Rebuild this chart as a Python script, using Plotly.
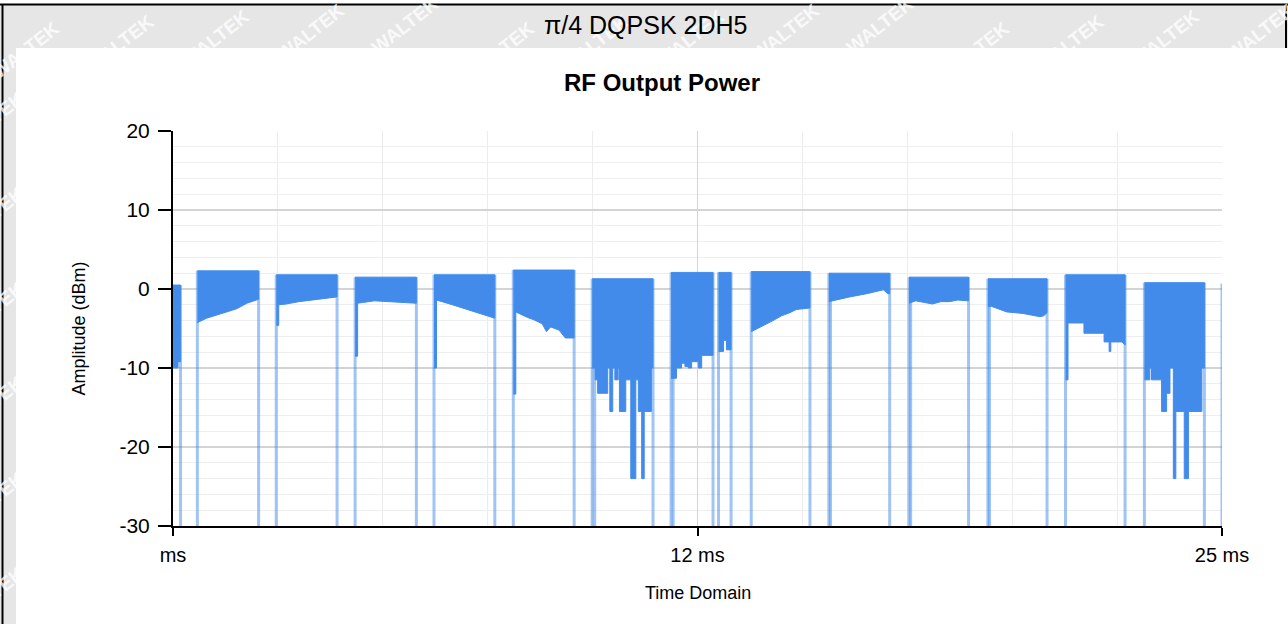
import plotly.graph_objects as go

# packet bursts (ms)
burst_start = [0.00, 0.58, 2.46, 4.34, 6.22, 8.11, 9.99, 11.87, 13.00, 13.78, 15.63, 17.54, 19.42, 21.27, 23.15]
burst_end = [0.18, 2.04, 3.91, 5.80, 7.67, 9.56, 11.44, 12.87, 13.30, 15.18, 17.08, 18.96, 20.83, 22.69, 24.58]
burst_peak = [0.5, 2.3, 1.8, 1.5, 1.8, 2.4, 1.3, 2.1, 2.1, 2.2, 2.0, 1.5, 1.3, 1.8, 0.8]

# lower envelope of each burst, left to right (ms / dBm)
floor_t = [
    [0.00, 0.12, 0.12, 0.18],
    [0.58, 0.64, 0.80, 1.04, 1.28, 1.52, 1.76, 1.99, 2.04],
    [2.46, 2.52, 2.52, 2.70, 3.00, 3.30, 3.60, 3.91],
    [4.34, 4.40, 4.40, 4.80, 5.20, 5.50, 5.80],
    [6.22, 6.28, 6.28, 6.60, 6.90, 7.20, 7.50, 7.67],
    [8.11, 8.17, 8.17, 8.45, 8.60, 8.80, 8.90, 9.00, 9.20, 9.35, 9.56],
    [9.99, 10.06, 10.06, 10.12, 10.12, 10.36, 10.36, 10.41, 10.41, 10.48, 10.48, 10.53,
     10.53, 10.61, 10.61, 10.64, 10.64, 10.79, 10.79, 10.91, 10.91, 11.03, 11.03, 11.09,
     11.09, 11.17, 11.17, 11.23, 11.23, 11.40, 11.40, 11.44],
    [11.87, 12.00, 12.00, 12.12, 12.12, 12.20, 12.20, 12.28, 12.28, 12.36, 12.36, 12.52,
     12.52, 12.60, 12.60, 12.87],
    [13.00, 13.12, 13.12, 13.19, 13.19, 13.30],
    [13.78, 13.85, 14.00, 14.10, 14.30, 14.50, 14.70, 14.85, 15.00, 15.18],
    [15.63, 15.74, 16.13, 16.53, 16.93, 17.04, 17.08],
    [17.54, 17.70, 17.90, 18.10, 18.30, 18.50, 18.70, 18.96],
    [19.42, 19.51, 19.87, 20.26, 20.66, 20.75, 20.83],
    [21.27, 21.33, 21.33, 21.71, 21.71, 22.19, 22.19, 22.31, 22.31, 22.35, 22.35, 22.62, 22.69],
    [23.15, 23.28, 23.28, 23.32, 23.32, 23.56, 23.56, 23.68, 23.68, 23.76, 23.76, 23.84,
     23.84, 23.90, 23.90, 24.10, 24.10, 24.20, 24.20, 24.52, 24.52, 24.58],
]
floor_db = [
    [-10.0, -10.0, -9.2, -9.2],
    [-4.3, -4.1, -3.7, -3.3, -2.9, -2.5, -1.8, -1.4, -1.3],
    [-4.6, -4.6, -2.0, -1.9, -1.6, -1.4, -1.2, -1.0],
    [-8.5, -8.5, -1.8, -1.5, -1.6, -1.7, -1.8],
    [-10.0, -10.0, -1.4, -1.9, -2.4, -2.9, -3.4, -3.7],
    [-13.3, -13.3, -2.9, -3.6, -3.9, -4.4, -5.4, -4.8, -5.2, -6.2, -6.2],
    [-10.0, -10.0, -11.5, -11.5, -13.2, -13.2, -10.0, -10.0, -15.5, -15.5, -10.0, -10.0,
     -11.5, -11.5, -10.0, -10.0, -15.5, -15.5, -11.5, -11.5, -24.0, -24.0, -11.5, -11.5,
     -15.5, -15.5, -24.0, -24.0, -15.5, -15.5, -10.0, -10.0],
    [-11.3, -11.3, -10.0, -10.0, -9.4, -9.4, -9.8, -9.8, -10.0, -10.0, -9.2, -9.2,
     -10.0, -10.0, -8.4, -8.4],
    [-7.9, -7.9, -6.5, -6.5, -7.7, -7.7],
    [-5.4, -5.2, -4.8, -4.5, -4.0, -3.4, -3.0, -2.6, -2.5, -2.4],
    [-1.6, -1.4, -1.0, -0.6, -0.1, -0.6, -0.6],
    [-1.8, -1.5, -1.7, -1.9, -1.6, -1.6, -1.4, -1.5],
    [-2.2, -2.2, -2.9, -3.1, -3.5, -3.4, -3.0],
    [-11.5, -11.5, -4.3, -4.3, -5.6, -5.6, -6.7, -6.7, -7.9, -7.9, -6.7, -6.7, -7.1],
    [-11.5, -11.5, -10.0, -10.0, -11.5, -11.5, -15.5, -15.5, -13.2, -13.2, -10.0, -10.0,
     -24.0, -24.0, -15.5, -15.5, -24.0, -24.0, -15.5, -15.5, -10.0, -10.0],
]

# rising / falling edges that drop below the -30 dBm bottom of the display
edge_t = [0.18, 0.58, 2.04, 2.46, 3.91, 4.34, 5.80, 6.22, 7.67, 8.11,
          9.56, 9.99, 10.05, 11.44, 11.87, 11.92, 12.87, 13.00, 13.30, 13.78,
          15.18, 15.63, 15.67, 17.08, 17.54, 17.58, 18.96, 19.42, 19.46, 20.83,
          21.27, 22.69, 23.15, 24.58, 25.00]
edge_db = [0.5, 2.3, 2.3, 1.8, 1.8, 1.5, 1.5, 1.8, 1.8, 2.4,
           2.4, 1.3, 1.3, 1.3, 2.1, 2.1, 2.1, 2.1, 2.1, 2.2,
           2.2, 2.0, 2.0, 2.0, 1.5, 1.5, 1.5, 1.3, 1.3, 1.3,
           1.8, 1.8, 0.8, 0.8, 0.7]

x_tickvals = [0, 12.5, 25]
x_ticktext = ["ms", "12 ms", "25 ms"]
y_tickvals = [-30, -20, -10, 0, 10, 20]
y_ticktext = ["-30", "-20", "-10", "0", "10", "20"]

BLUE = "#428BEB"
FONT = "Liberation Sans, Arial, sans-serif"
W, H = 1288, 624
L, R, T, B = 173, 1222, 131, 526


def px(x):
    return (x - L) / (R - L)


def py(y):
    return (B - y) / (B - T)


fig = go.Figure()

ex, ey = [], []
for t, top in zip(edge_t, edge_db):
    ex += [t, t, None]
    ey += [-30, top, None]
fig.add_trace(go.Scatter(x=ex, y=ey, mode="lines",
                         line=dict(color="rgba(66,139,235,0.5)", width=3),
                         hoverinfo="skip", showlegend=False))

bx, by = [], []
for t0, t1, top, ft, fd in zip(burst_start, burst_end, burst_peak, floor_t, floor_db):
    bx += [t0, t1] + ft[::-1] + [None]
    by += [top, top] + fd[::-1] + [None]
fig.add_trace(go.Scatter(x=bx, y=by, mode="lines", fill="toself",
                         fillcolor=BLUE, line=dict(color=BLUE, width=1),
                         name="RF Output Power", showlegend=False))

shapes = [
    dict(type="rect", xref="paper", yref="paper", x0=px(16), x1=px(W), y0=py(48), y1=py(H),
         fillcolor="white", line_width=0, layer="below"),
    dict(type="rect", xref="paper", yref="paper", x0=px(0), x1=px(W), y0=py(0), y1=py(4),
         fillcolor="white", line_width=0, layer="below"),
    dict(type="line", xref="paper", yref="paper", x0=px(0), x1=px(W), y0=py(4.5), y1=py(4.5),
         line=dict(color="black", width=2)),
    dict(type="line", xref="paper", yref="paper", x0=px(2.5), x1=px(2.5), y0=py(4), y1=py(H),
         line=dict(color="black", width=2)),
    dict(type="line", xref="paper", yref="paper", x0=px(1286), x1=px(1286), y0=py(4), y1=py(48),
         line=dict(color="black", width=2)),
]


def label(text, x, y, size, angle=0, color="black"):
    return dict(text=text, xref="paper", yref="paper", x=x, y=y, showarrow=False,
                xanchor="center", yanchor="middle", textangle=angle,
                font=dict(family=FONT, size=size, color=color))


# faint report watermark behind the header
annotations = []
for i in range(14):
    annotations.append(label("<b>WALTEK</b>", px(25 + 95 * i), py(50 - (i % 5) * 6), 19, -38,
                             "rgba(255,255,255,0.8)"))
for j in range(6):
    annotations.append(label("<b>WALTEK</b>", px(-10), py(120 + 95 * j), 19, -38,
                             "rgba(255,255,255,0.8)"))

annotations += [
    label("π/4 DQPSK 2DH5", px(645), py(25), 25),
    label("<b>RF Output Power</b>", px(662), py(82), 24),
    label("Amplitude (dBm)", px(78), 0.5, 18, -90),
    label("Time Domain", 0.5, py(593), 18),
]

fig.update_layout(
    width=W,
    height=H,
    autosize=False,
    margin=dict(l=L, r=W - R, t=T, b=H - B, pad=0),
    paper_bgcolor="#e6e6e6",
    plot_bgcolor="white",
    shapes=shapes,
    annotations=annotations,
    font=dict(family=FONT, color="black"),
    showlegend=False,
)

fig.update_xaxes(
    range=[0, 25],
    tickvals=x_tickvals,
    ticktext=x_ticktext,
    tickfont=dict(size=20, color="black"),
    showline=True, linecolor="black", linewidth=2,
    ticks="outside", ticklen=8, tickwidth=2, tickcolor="black",
    ticklabelstandoff=2,
    showgrid=True, gridcolor="#d4d4d4", gridwidth=1,
    minor=dict(dtick=2.5, tick0=0, showgrid=True, gridcolor="#ececec", gridwidth=1),
    zeroline=False,
)
fig.update_yaxes(
    range=[-30, 20],
    tickvals=y_tickvals,
    ticktext=y_ticktext,
    tickfont=dict(size=21, color="black"),
    showline=True, linecolor="black", linewidth=2,
    ticks="outside", ticklen=13, tickwidth=2, tickcolor="black",
    ticklabelstandoff=4,
    showgrid=True, gridcolor="#d4d4d4", gridwidth=1.5,
    minor=dict(dtick=2, tick0=0, showgrid=True, gridcolor="#eeeeee", gridwidth=1),
    zeroline=False,
)

fig.write_html("out.html", config={"displayModeBar": False},
               post_script="document.body.style.margin='0';")
